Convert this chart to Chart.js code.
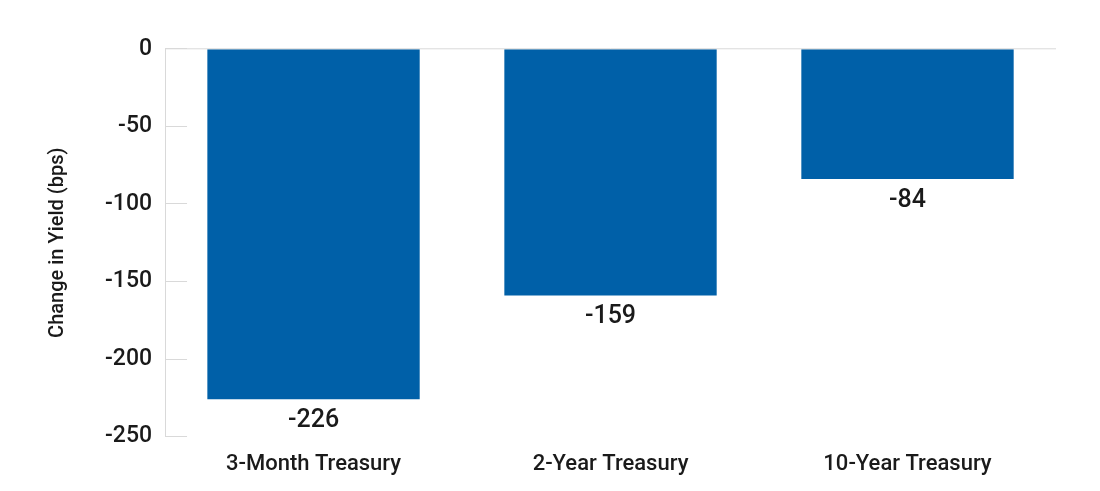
<!DOCTYPE html>
<html lang="en">
<head>
    <meta charset="UTF-8">
    <title>Change in Yield</title>
    <script src="https://cdn.jsdelivr.net/npm/chart.js"></script>
    <style>
        body { margin: 0; background: #fff; }
        .wrap { width: 1100px; height: 491px; position: relative; }
    </style>
</head>
<body>
    <div class="wrap"><canvas id="yieldChart"></canvas></div>
    <script>
        const categories = ['3-Month Treasury', '2-Year Treasury', '10-Year Treasury'];
        const yieldChange = [-226, -159, -84];
        const yTicks = [0, -50, -100, -150, -200, -250];

        const barLabels = {
            id: 'barLabels',
            afterDatasetsDraw(chart) {
                const ctx = chart.ctx;
                const meta = chart.getDatasetMeta(0);
                ctx.save();
                ctx.font = '500 25px Roboto';
                ctx.fillStyle = '#1a1a1a';
                ctx.textAlign = 'center';
                ctx.textBaseline = 'top';
                meta.data.forEach((bar, i) => {
                    ctx.fillText(yieldChange[i], bar.x, bar.y + 9);
                });
                // zero line across the plot
                const y0 = chart.scales.y.getPixelForValue(0);
                ctx.strokeStyle = '#d9d9d9';
                ctx.lineWidth = 1;
                ctx.beginPath();
                ctx.moveTo(chart.chartArea.left, y0);
                ctx.lineTo(chart.chartArea.right, y0);
                ctx.stroke();
                ctx.restore();
            }
        };

        new Chart(document.getElementById('yieldChart'), {
            type: 'bar',
            data: {
                labels: categories,
                datasets: [{
                    data: yieldChange,
                    backgroundColor: '#0060a8',
                    categoryPercentage: 0.715,
                    barPercentage: 1
                }]
            },
            options: {
                responsive: true,
                maintainAspectRatio: false,
                animation: false,
                layout: { padding: { top: -6, right: 44, left: 42, bottom: 6 } },
                plugins: { legend: { display: false }, tooltip: { enabled: false } },
                scales: {
                    x: {
                        grid: { display: false },
                        border: { display: false },
                        ticks: { color: '#1a1a1a', font: { family: 'Roboto', size: 22, weight: 500 }, padding: 7 }
                    },
                    y: {
                        min: -250,
                        max: 0,
                        afterBuildTicks: (axis) => { axis.ticks = yTicks.map(v => ({ value: v })); },
                        grid: { drawOnChartArea: false, tickLength: -22, color: '#d9d9d9' },
                        border: { color: '#d9d9d9' },
                        ticks: { color: '#1a1a1a', font: { family: 'Roboto', size: 23, weight: 500 }, padding: 35 },
                        title: {
                            display: true,
                            text: 'Change in Yield (bps)',
                            color: '#1a1a1a',
                            font: { family: 'Roboto', size: 20, weight: 500 },
                            padding: { bottom: 0 }
                        }
                    }
                }
            },
            plugins: [barLabels]
        });
    </script>
</body>
</html>
